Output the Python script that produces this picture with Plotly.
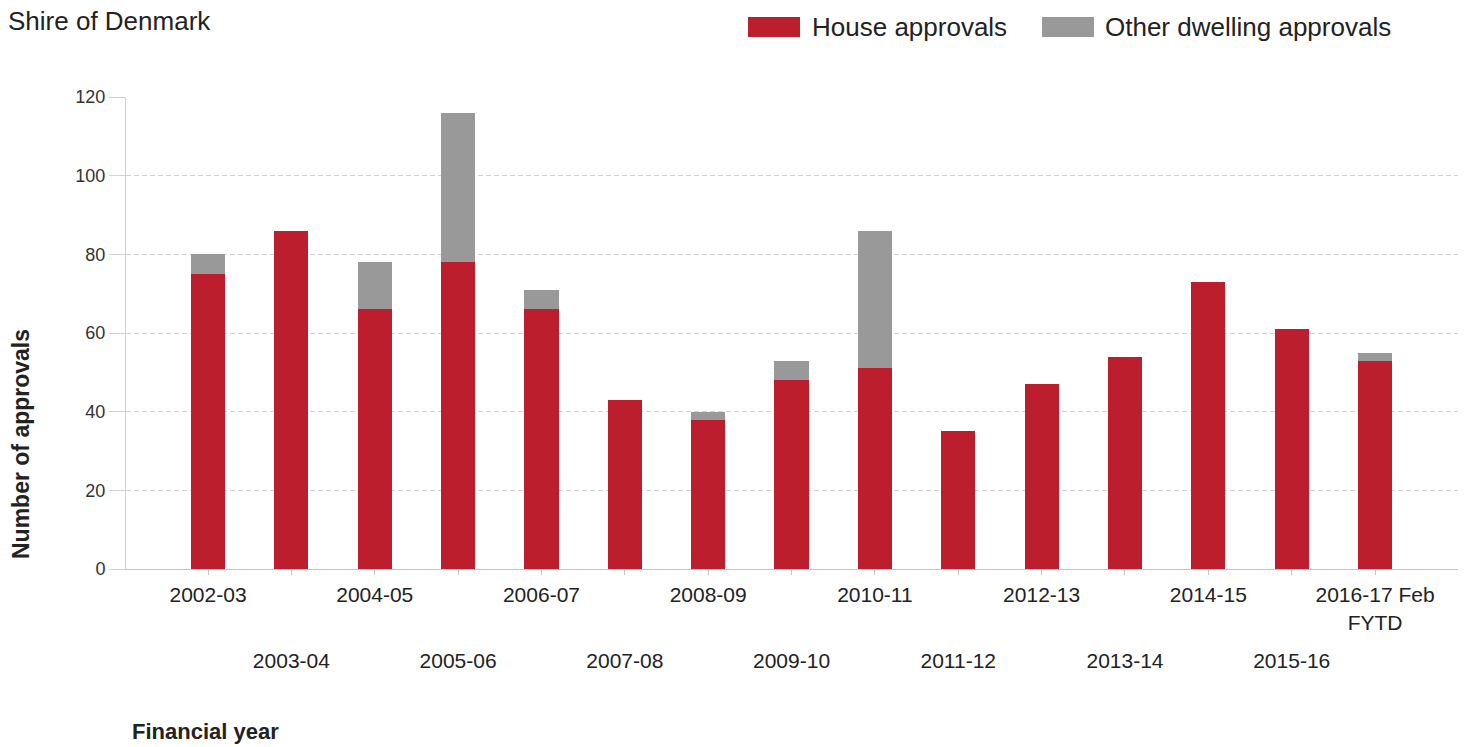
import plotly.graph_objects as go

# Financial years and dwelling approvals, Shire of Denmark
years = ["2002-03", "2003-04", "2004-05", "2005-06", "2006-07", "2007-08",
         "2008-09", "2009-10", "2010-11", "2011-12", "2012-13", "2013-14",
         "2014-15", "2015-16", "2016-17 Feb FYTD"]
house_approvals = [75, 86, 66, 78, 66, 43, 38, 48, 51, 35, 47, 54, 73, 61, 53]
other_approvals = [5, 0, 12, 38, 5, 0, 2, 5, 35, 0, 0, 0, 0, 0, 2]

tick_labels = ["2002-03", "2003-04", "2004-05", "2005-06", "2006-07", "2007-08",
               "2008-09", "2009-10", "2010-11", "2011-12", "2012-13", "2013-14",
               "2014-15", "2015-16", "2016-17 Feb<br>FYTD"]

RED = "#BD1E2E"
GREY = "#999999"
TEXT = "#222222"
FONT = "Liberation Sans, Arial, sans-serif"

W, H = 1472, 747
ML, MR, MT, MB = 126, 14, 97, 178
PW, PH = W - ML - MR, H - MT - MB


def px_to_paper(px, py):
    return (px - ML) / PW, (H - MB - py) / PH


fig = go.Figure()
fig.add_trace(go.Bar(x=years, y=house_approvals, name="House approvals",
                     marker=dict(color=RED, line=dict(width=0)), showlegend=False))
fig.add_trace(go.Bar(x=years, y=other_approvals, name="Other dwelling approvals",
                     marker=dict(color=GREY, line=dict(width=0)), showlegend=False))

x_range = [-0.984, 14.995]
even_idx = list(range(0, len(years), 2))
odd_idx = list(range(1, len(years), 2))

# Legend swatches and labels
shapes = []
annotations = []
for (x0, x1, label, tx, col) in [(748, 800, "House approvals", 810, RED),
                                 (1042, 1094, "Other dwelling approvals", 1103, GREY)]:
    a0, b0 = px_to_paper(x0, 37)
    a1, b1 = px_to_paper(x1, 17)
    shapes.append(dict(type="rect", xref="paper", yref="paper", x0=a0, x1=a1,
                       y0=b0, y1=b1, fillcolor=col, line=dict(width=0)))
    lx, ly = px_to_paper(tx, 27)
    annotations.append(dict(text=label, xref="paper", yref="paper", x=lx, y=ly,
                            xanchor="left", yanchor="middle", showarrow=False,
                            font=dict(family=FONT, size=26, color=TEXT)))

# Axis titles
yx, yy = px_to_paper(21, 444)
annotations.append(dict(text="<b>Number of approvals</b>", xref="paper", yref="paper",
                        x=yx, y=yy, xanchor="center", yanchor="middle", textangle=-90,
                        showarrow=False, font=dict(family=FONT, size=23, color=TEXT)))
fx, fy = px_to_paper(130, 731)
annotations.append(dict(text="<b>Financial year</b>", xref="paper", yref="paper",
                        x=fx, y=fy, xanchor="left", yanchor="middle",
                        showarrow=False, font=dict(family=FONT, size=22, color=TEXT)))

fig.update_layout(
    width=W, height=H,
    margin=dict(l=ML, r=MR, t=MT, b=MB),
    paper_bgcolor="white", plot_bgcolor="white",
    barmode="stack", bargap=0.59,
    font=dict(family=FONT, color=TEXT),
    title=dict(text="Shire of Denmark", xref="container", yref="container",
               x=8 / W, y=1 - 21 / H, xanchor="left", yanchor="middle",
               font=dict(family=FONT, size=26, color=TEXT)),
    xaxis=dict(type="category", categoryorder="array", categoryarray=years,
               range=x_range, tickmode="array",
               tickvals=[years[i] for i in even_idx],
               ticktext=[tick_labels[i] for i in even_idx],
               showgrid=False, zeroline=False,
               showline=True, linecolor="#c4c4c4", linewidth=1,
               ticks="outside", ticklen=5, tickcolor="#c4c4c4",
               tickfont=dict(family=FONT, size=21, color=TEXT),
               ticklabelstandoff=2),
    xaxis2=dict(overlaying="x", anchor="y", side="bottom", type="linear",
                range=x_range, tickmode="array",
                tickvals=odd_idx, ticktext=[tick_labels[i] for i in odd_idx],
                showgrid=False, zeroline=False, showline=False,
                ticks="outside", ticklen=5, tickcolor="#c4c4c4",
                tickfont=dict(family=FONT, size=21, color=TEXT),
                ticklabelstandoff=68),
    yaxis=dict(range=[0, 120], tickmode="linear", tick0=0, dtick=20,
               showgrid=True, gridcolor="#d2d2d2", griddash="5px,3px", gridwidth=1,
               zeroline=False, showline=True, linecolor="#d2d2d2", linewidth=1,
               ticks="outside", ticklen=16, tickcolor="#d2d2d2",
               tickfont=dict(family=FONT, size=18, color="#333333")),
    shapes=shapes,
    annotations=annotations,
)

# Invisible point on the overlay axis so its ticks are rendered
fig.add_trace(go.Scatter(x=[0], y=[0], xaxis="x2", mode="markers",
                         marker=dict(opacity=0), showlegend=False, hoverinfo="skip"))

fig.write_html("out.html")
